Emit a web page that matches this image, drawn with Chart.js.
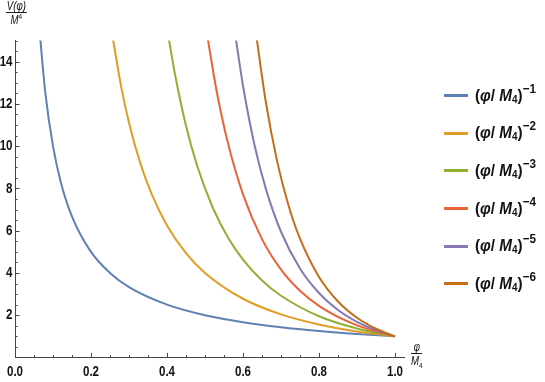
<!DOCTYPE html>
<html>
<head>
<meta charset="utf-8">
<script src="https://cdn.jsdelivr.net/npm/chart.js@4"></script>
<style>
  html, body { margin: 0; padding: 0; background: #fff; }
  #wrap { position: relative; width: 545px; height: 382px; }
  #chart { position: absolute; left: 0; top: 0; }
  .sans { font-family: 'Liberation Sans', Arial, sans-serif; color: #111; }
  .frac { position: absolute; text-align: center; font-style: italic; font-size: 12px; line-height: 10px; transform: scaleX(0.8); transform-origin: left top; }
  .frac .num { display: block; border-bottom: 1px solid #222; padding: 0 1px 1px; }
  .frac .den { display: block; padding-top: 2px; }
  .frac sup, .frac sub { font-size: 8px; line-height: 0; font-style: normal; }
  #legend { position: absolute; left: 444px; top: 77px; }
  .row { height: 37.6px; display: flex; align-items: center; }
  .swatch { width: 24px; height: 3px; margin-right: 7px; flex: none; }
  .lbl { font-size: 17px; font-weight: bold; white-space: nowrap; display: inline-block; transform-origin: left center; }
  .lbl sub { font-size: 11px; font-style: normal; vertical-align: -2px; line-height: 0; }
  .lbl sup { font-size: 13px; vertical-align: 8px; line-height: 0; }
</style>
</head>
<body>
<div id="wrap">
  <canvas id="chart" width="545" height="382"></canvas>
  <div class="frac sans" style="left:6px; top:1px;"><span class="num">V(φ)</span><span class="den">M<sup>4</sup></span></div>
  <div class="frac sans" style="left:411px; top:342px;"><span class="num">φ</span><span class="den">M<sub>4</sub></span></div>
  <div id="legend" class="sans"></div>
</div>
<script>
const seriesColors = ['#5E81B5', '#E19C24', '#8FB032', '#EB6235', '#8778B3', '#C56E1A'];
const exponents = [1, 2, 3, 4, 5, 6];

// values, one x list and one y list per curve
const x1 = [0.065, 0.08, 0.10, 0.12, 0.15, 0.20, 0.25, 0.30, 0.40, 0.50, 0.60, 0.70, 0.80, 0.90, 1.00];
const y1 = [15.38, 12.50, 10.00, 8.33, 6.67, 5.00, 4.00, 3.33, 2.50, 2.00, 1.67, 1.43, 1.25, 1.11, 1.00];
const x2 = [0.256, 0.28, 0.30, 0.33, 0.36, 0.40, 0.45, 0.50, 0.60, 0.70, 0.80, 0.90, 1.00];
const y2 = [15.26, 12.76, 11.11, 9.18, 7.72, 6.25, 4.94, 4.00, 2.78, 2.04, 1.56, 1.23, 1.00];
const x3 = [0.404, 0.42, 0.45, 0.48, 0.52, 0.56, 0.60, 0.65, 0.70, 0.80, 0.90, 1.00];
const y3 = [15.17, 13.50, 10.97, 9.04, 7.11, 5.69, 4.63, 3.64, 2.92, 1.95, 1.37, 1.00];
const x4 = [0.507, 0.53, 0.56, 0.60, 0.65, 0.70, 0.75, 0.80, 0.85, 0.90, 0.95, 1.00];
const y4 = [15.11, 12.67, 10.17, 7.72, 5.60, 4.16, 3.16, 2.44, 1.92, 1.52, 1.23, 1.00];
const x5 = [0.581, 0.60, 0.63, 0.66, 0.70, 0.75, 0.80, 0.85, 0.90, 0.95, 1.00];
const y5 = [15.12, 12.86, 10.08, 7.99, 5.95, 4.21, 3.05, 2.25, 1.69, 1.29, 1.00];
const x6 = [0.636, 0.66, 0.69, 0.72, 0.75, 0.80, 0.85, 0.90, 0.95, 1.00];
const y6 = [15.10, 12.10, 9.27, 7.18, 5.62, 3.81, 2.65, 1.88, 1.36, 1.00];

const xLists = [x1, x2, x3, x4, x5, x6];
const yLists = [y1, y2, y3, y4, y5, y6];

const xTickValues = [0, 0.2, 0.4, 0.6, 0.8, 1.0];
const xTickLabels = ['0.0', '0.2', '0.4', '0.6', '0.8', '1.0'];
const yTickValues = [2, 4, 6, 8, 10, 12, 14];
const yTickLabels = ['2', '4', '6', '8', '10', '12', '14'];

const tickFont = "bold 15px 'Liberation Sans', Arial, sans-serif";
const axisColor = '#444';

let datasets = xLists.map(function(xs, i) {
  return {
    label: '(φ/M4)^-' + exponents[i],
    data: xs.map(function(x, j) { return {x: x, y: yLists[i][j]}; }),
    borderColor: seriesColors[i],
    borderWidth: 2,
    pointRadius: 0,
    showLine: true,
    fill: false,
    cubicInterpolationMode: 'monotone',
    order: exponents.length - i,
  };
});

function narrowText(ctx, text, x, y, align) {
  const sx = 0.77;
  const w = ctx.measureText(text).width * sx;
  let left = x;
  if (align === 'center') left = x - w / 2;
  if (align === 'right') left = x - w;
  ctx.save();
  ctx.translate(left, y);
  ctx.scale(sx, 1);
  ctx.textAlign = 'left';
  ctx.fillText(text, 0, 0);
  ctx.restore();
}

// inward tick marks and condensed tick labels like the original axes
const axisDecor = {
  id: 'axisDecor',
  afterDraw(chart) {
    const ctx = chart.ctx;
    const xs = chart.scales.x, ys = chart.scales.y;
    ctx.save();
    ctx.strokeStyle = axisColor;
    ctx.lineWidth = 1;
    ctx.beginPath();
    for (let k = 1; k <= 20; k++) {
      const px = Math.round(xs.getPixelForValue(k * 0.05)) + 0.5;
      const len = (k % 4 === 0) ? 4.5 : 2.5;
      ctx.moveTo(px, ys.bottom);
      ctx.lineTo(px, ys.bottom - len);
    }
    for (let k = 1; k <= 30; k++) {
      const py = Math.round(ys.getPixelForValue(k * 0.5)) + 0.5;
      const len = (k % 4 === 0) ? 4.5 : 2.5;
      ctx.moveTo(xs.left, py);
      ctx.lineTo(xs.left + len, py);
    }
    ctx.stroke();

    ctx.fillStyle = '#111';
    ctx.font = tickFont;
    ctx.textBaseline = 'middle';
    xTickValues.forEach(function(v, i) {
      narrowText(ctx, xTickLabels[i], xs.getPixelForValue(v), ys.bottom + 14, 'center');
    });
    yTickValues.forEach(function(v, i) {
      narrowText(ctx, yTickLabels[i], xs.left - 2.5, ys.getPixelForValue(v), 'right');
    });
    ctx.restore();
  }
};

let lineCtx = document.getElementById('chart');
let lineConfig = {
  type: 'scatter',
  data: { datasets: datasets },
  options: {
    responsive: false,
    animation: false,
    layout: { autoPadding: false, padding: { left: 0, top: 40.5, right: 140.5, bottom: 0 } },
    plugins: { legend: { display: false }, tooltip: { enabled: false } },
    scales: {
      x: {
        type: 'linear',
        min: 0,
        max: 1.025,
        afterFit: function(scale) { scale.height = 24.5; },
        grid: { display: false, drawTicks: false },
        border: { display: true, color: axisColor, width: 1 },
        ticks: { display: false, stepSize: 0.2 }
      },
      y: {
        type: 'linear',
        min: 0,
        max: 15,
        afterFit: function(scale) { scale.width = 15; },
        grid: { display: false, drawTicks: false },
        border: { display: true, color: axisColor, width: 1 },
        ticks: { display: false, stepSize: 2 }
      }
    }
  },
  plugins: [axisDecor]
};

new Chart(lineCtx, lineConfig);

// legend rows built from the same series arrays
let legend = document.getElementById('legend');
exponents.forEach(function(n, i) {
  let row = document.createElement('div');
  row.className = 'row';
  row.innerHTML = '<span class="swatch" style="background:' + seriesColors[i] + '"></span>' +
    '<span class="lbl">(<i>φ</i>/ <i>M</i><sub>4</sub>)<sup>−' + n + '</sup></span>';
  legend.appendChild(row);
});
let labels = legend.querySelectorAll('.lbl');
let squeeze = 61 / labels[0].getBoundingClientRect().width;
labels.forEach(function(el) { el.style.transform = 'scaleX(' + squeeze + ')'; });
</script>
</body>
</html>
